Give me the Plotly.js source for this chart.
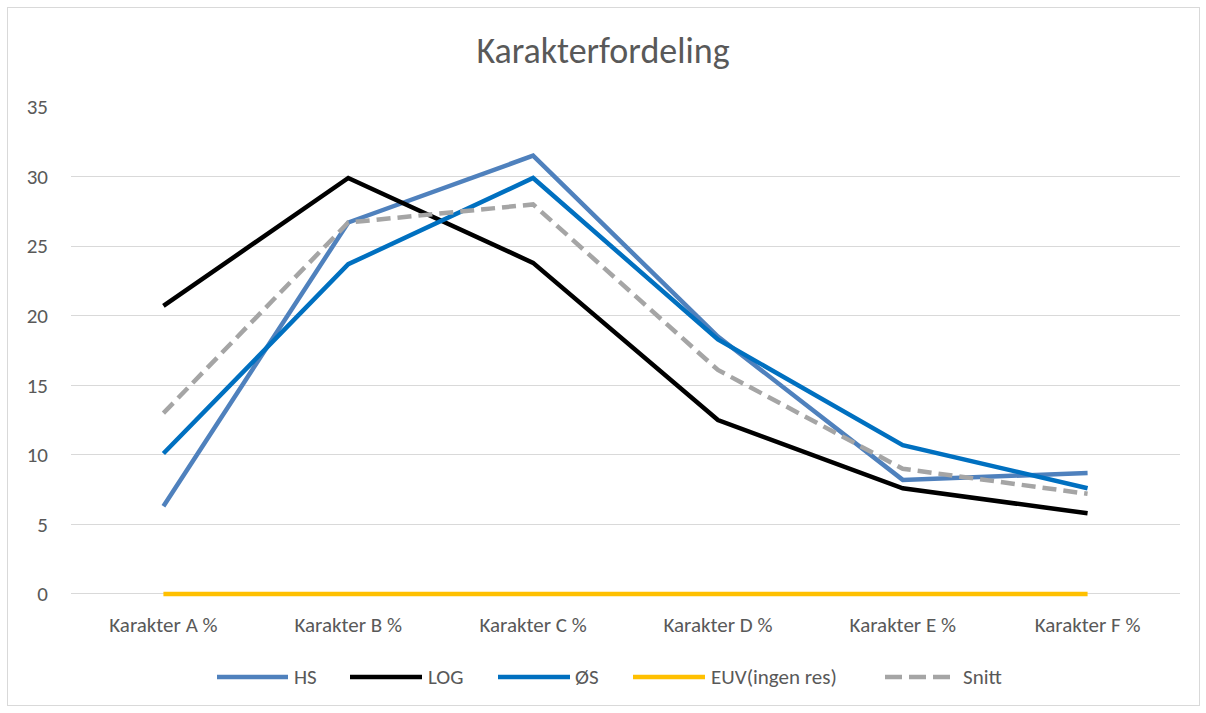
<!DOCTYPE html>
<html>
<head>
<meta charset="utf-8">
<script src="https://cdn.plot.ly/plotly-3.0.1.min.js"></script>
<style>
  html, body { margin: 0; padding: 0; background: #ffffff; }
  #wrap { position: relative; width: 1206px; height: 713px; }
  #chart { position: absolute; left: 0; top: 0; width: 1206px; height: 713px; }
  #frame { position: absolute; left: 7px; top: 7px; width: 1191px; height: 697px; border: 1px solid #d9d9d9; pointer-events: none; }
</style>
</head>
<body>
<div id="wrap">
  <div id="chart"></div>
  <div id="frame"></div>
</div>
<script>
const categories = ["Karakter A %", "Karakter B %", "Karakter C %", "Karakter D %", "Karakter E %", "Karakter F %"];
const seriesNames = ["HS", "LOG", "ØS", "EUV(ingen res)", "Snitt"];
const hsValues    = [6.3, 26.7, 31.5, 18.5, 8.2, 8.7];
const logValues   = [20.7, 29.9, 23.8, 12.5, 7.6, 5.8];
const osValues    = [10.1, 23.7, 29.9, 18.3, 10.7, 7.6];
const euvValues   = [0, 0, 0, 0, 0, 0];
const snittValues = [13.0, 26.7, 28.0, 16.1, 9.0, 7.2];
const yTicks = [0, 5, 10, 15, 20, 25, 30, 35];

const font = "Carlito, 'Liberation Sans Narrow', 'Open Sans', sans-serif";
const seriesColors = ["#4f81bd", "#000000", "#0070c0", "#ffc000", "#a5a5a5"];
const seriesDash = ["solid", "solid", "solid", "solid", "14px,7px"];
const seriesValues = [hsValues, logValues, osValues, euvValues, snittValues];

// plot area in pixels (layout only); a little room below 0 so the 0-line is not clipped
const M = { l: 71, r: 26, t: 107, b: 116 };
const W = 1206, H = 713;
const yMin = -0.216, yMax = 35;
const plotW = W - M.l - M.r, plotH = H - M.t - M.b;
const px2x = p => (p - M.l) / plotW;
const py2y = p => (H - M.b - p) / plotH;

// custom legend geometry (pixels): line start, line end, text start
const legendPos = [[217, 288, 292], [350, 422, 426], [498, 570, 573], [633, 705, 709], [885, 950, 961]];
const legendDash = ["solid", "solid", "solid", "solid", "17px,7px"];
const legendY = 677;

const traces = seriesNames.map((n, i) => ({
  type: "scatter", mode: "lines", name: n,
  x: categories, y: seriesValues[i],
  line: { color: seriesColors[i], width: 4.5, dash: seriesDash[i] },
  hoverinfo: "x+y+name"
}));

const shapes = [], annotations = [];
seriesNames.forEach((n, i) => {
  const [a, b, t] = legendPos[i];
  shapes.push({ type: "line", xref: "paper", yref: "paper",
    x0: px2x(a), x1: px2x(b), y0: py2y(legendY), y1: py2y(legendY),
    line: { color: seriesColors[i], width: 4.5, dash: legendDash[i] } });
  annotations.push({ xref: "paper", yref: "paper", x: px2x(t), y: py2y(legendY),
    xanchor: "left", yanchor: "middle", text: n, showarrow: false,
    font: { family: font, size: 21, color: "#595959" } });
});

const layout = {
  width: W, height: H,
  paper_bgcolor: "#ffffff", plot_bgcolor: "#ffffff",
  margin: M,
  title: { text: "Karakterfordeling", x: 0.5, xanchor: "center", y: 0.929, yanchor: "middle",
           font: { family: font, size: 36, color: "#595959" } },
  font: { family: font, color: "#595959" },
  xaxis: {
    type: "category", range: [-0.5, 5.5], showgrid: false, zeroline: false,
    showline: false, ticks: "", tickfont: { family: font, size: 21, color: "#595959" },
    ticklabelstandoff: 13
  },
  yaxis: {
    range: [yMin, yMax], tickvals: yTicks, ticktext: yTicks.map(String),
    showgrid: true, gridcolor: "#d9d9d9", gridwidth: 1, zeroline: false, showline: false,
    ticks: "", tickfont: { family: font, size: 21, color: "#595959" },
    ticklabelstandoff: 22
  },
  showlegend: false,
  shapes: shapes,
  annotations: annotations
};

Plotly.newPlot("chart", traces, layout, { displayModeBar: false, staticPlot: true });
</script>
</body>
</html>
